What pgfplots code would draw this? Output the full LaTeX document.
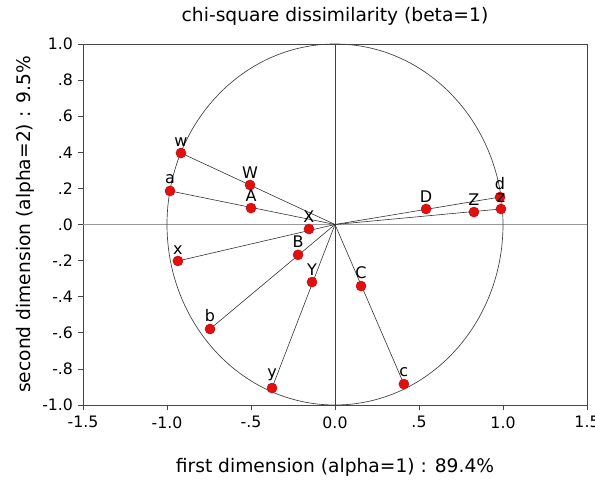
\documentclass[border=0pt]{standalone}
\usepackage{pgfplots}
\pgfplotsset{compat=1.18}
\usepackage{pgfplotstable}
\usepackage{fontspec}
\setmainfont{DejaVu Sans}
\usetikzlibrary{calc}

\definecolor{ptred}{RGB}{225,15,15}
\definecolor{frame}{RGB}{70,70,70}

\pgfplotstableread{
x y label
-0.917 0.396 w
-0.506 0.219 W
-0.982 0.186 a
-0.500 0.091 A
-0.155 -0.025 X
-0.220 -0.168 B
-0.935 -0.202 x
-0.137 -0.319 Y
-0.744 -0.579 b
-0.375 -0.906 y
0.155 -0.341 C
0.410 -0.884 c
0.542 0.086 D
0.827 0.069 Z
0.982 0.152 d
0.988 0.086 z
}\points

\begin{document}
\begin{tikzpicture}
  \begin{axis}[
    name=ax,
    scale only axis,
    width=378pt, height=270.75pt,
    xmin=-1.5, xmax=1.5,
    ymin=-1, ymax=1,
    xtick={-1.5,-1,-0.5,0,0.5,1,1.5},
    xticklabels={-1.5,-1.0,-.5,0.0,.5,1.0,1.5},
    ytick={-1,-0.8,-0.6,-0.4,-0.2,0,0.2,0.4,0.6,0.8,1},
    yticklabels={-1.0,-.8,-.6,-.4,-.2,.0,.2,.4,.6,.8,1.0},
    tick pos=left,
    tick align=outside,
    major tick length=4pt,
    tick style={frame, line width=0.5pt},
    axis line style={frame, line width=0.6pt},
    tick label style={font=\fontsize{11.8}{13}\selectfont},
    xticklabel style={yshift=-1pt},
    every axis title shift=0pt,
    title={chi-square dissimilarity (beta=1)},
    title style={font=\fontsize{14}{16}\selectfont, at={(axis description cs:0.5,1.0776)}, anchor=center},
    xlabel={first dimension (alpha=1) : 89.4\%},
    xlabel style={font=\fontsize{14}{16}\selectfont, at={(axis description cs:0.5,-0.172)}, anchor=center},
    ylabel={second dimension (alpha=2) : 9.5\%},
    ylabel style={font=\fontsize{14}{16}\selectfont, at={(axis description cs:-0.115,0.5)}, anchor=center, rotate=0},
    clip=false,
  ]
    \draw[gray!80, line width=0.5pt] (axis cs:-1.5,0) -- (axis cs:1.5,0);
    \draw[black!75, line width=0.5pt] (axis cs:0,-1) -- (axis cs:0,1);
    \draw[black!75, line width=0.5pt] (axis cs:0,0) ellipse [x radius=1, y radius=1];

    \addplot[black!80, line width=0.45pt] coordinates {(0,0) (-0.917,0.396)};
    \addplot[black!80, line width=0.45pt] coordinates {(0,0) (-0.982,0.186)};
    \addplot[black!80, line width=0.45pt] coordinates {(0,0) (-0.935,-0.202)};
    \addplot[black!80, line width=0.45pt] coordinates {(0,0) (-0.744,-0.579)};
    \addplot[black!80, line width=0.45pt] coordinates {(0,0) (-0.375,-0.906)};
    \addplot[black!80, line width=0.45pt] coordinates {(0,0) (0.410,-0.884)};
    \addplot[black!80, line width=0.45pt] coordinates {(0,0) (0.982,0.152)};
    \addplot[black!80, line width=0.45pt] coordinates {(0,0) (0.988,0.086)};

    \addplot[only marks, mark=*, mark size=3.8pt, mark options={fill=ptred, draw=ptred!85!black, line width=0.3pt},
      point meta=explicit symbolic,
      nodes near coords,
      nodes near coords style={font=\fontsize{12}{13}\selectfont, anchor=south, inner sep=0.5pt, yshift=4.5pt}]
      table[x=x, y=y, meta=label] {\points};
    \coordinate (bl) at (rel axis cs:0,0);
    \coordinate (tr) at (rel axis cs:1,1);
  \end{axis}
  \pgfresetboundingbox
  \useasboundingbox ($(bl)+(-62.25pt,-60pt)$) rectangle ($(tr)+(6pt,33pt)$);
\end{tikzpicture}
\end{document}
